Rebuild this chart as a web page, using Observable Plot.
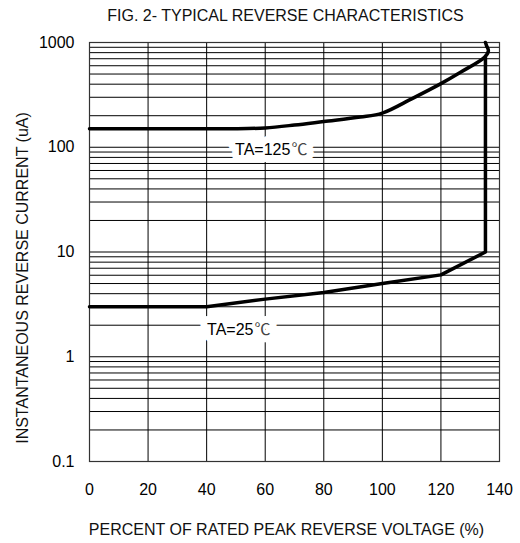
<!DOCTYPE html>
<html>
<head>
<meta charset="utf-8">
<script src="https://cdn.jsdelivr.net/npm/d3@7"></script>
<script src="https://cdn.jsdelivr.net/npm/@observablehq/plot@0.6"></script>
<style>
  html, body { margin: 0; padding: 0; background: #fff; }
  #chart { width: 520px; height: 543px; }
</style>
</head>
<body>
<div id="chart"></div>
<script>
// ---- data ----
const titleText = "FIG. 2- TYPICAL REVERSE CHARACTERISTICS";
const xLabelText = "PERCENT OF RATED PEAK REVERSE VOLTAGE (%)";
const yLabelText = "INSTANTANEOUS REVERSE CURRENT (uA)";

const xTicks = [0, 20, 40, 60, 80, 100, 120, 140];
const yTicks = [0.1, 1, 10, 100, 1000];
const yTickLabels = ["0.1", "1", "10", "100", "1000"];
const yDecades = [0.1, 1, 10, 100];
const yMinorMultipliers = [1, 2, 3, 4, 5, 6, 7, 8, 9];

// TA = 125 °C curve (percent, uA)
const hotX = [0, 20, 40, 50, 60, 70, 80, 92.5, 100, 110, 120, 126.7, 134.9, 136.2, 135.6, 135.2];
const hotY = [150, 150, 150, 150, 153, 163, 176, 194, 212, 290, 405, 520, 724, 830, 930, 1000];

// TA = 25 °C curve (percent, uA)
const coldX = [0, 20, 40, 60, 80, 100, 120, 135.2, 135.2];
const coldY = [3, 3, 3, 3.55, 4.1, 5.0, 6.05, 10, 720];

const labelText = ["TA=125", "TA=25"];
const labelUnit = "℃";
const labelX = [68.6, 56.0];
const labelY = [95, 1.82];

// ---- build ----
const hot = hotX.map((x, i) => ({x, y: hotY[i]}));
const cold = coldX.map((x, i) => ({x, y: coldY[i]}));
const labels = labelText.map((t, i) => ({t, u: labelUnit, x: labelX[i], y: labelY[i]}));
const yGrid = yDecades.flatMap(d => yMinorMultipliers.map(m => +(m * d).toPrecision(3))).concat([1000]);
const xGrid = xTicks.slice(1, -1);

const font = "'Liberation Sans', Arial, 'Noto Sans CJK SC', sans-serif";
const cjk = "'Noto Sans CJK SC', 'Liberation Sans', sans-serif";
const halo = {stroke: "#fff", fill: "#fff", strokeWidth: 14, strokeLinejoin: "round", paintOrder: "stroke", fontSize: 16};

const chart = Plot.plot({
  width: 520,
  height: 543,
  marginTop: 42,
  marginLeft: 89,
  marginRight: 21,
  marginBottom: 82,
  style: {fontFamily: font, fontSize: "16px", background: "#fff", color: "#000"},
  x: {domain: [0, 140]},
  y: {type: "log", domain: [0.1, 1000]},
  marks: [
    Plot.ruleY(yGrid, {stroke: "#000", strokeWidth: 1}),
    Plot.ruleX(xGrid, {stroke: "#000", strokeWidth: 1}),
    Plot.frame({stroke: "#333", strokeWidth: 1.2}),
    Plot.line(cold, {x: "x", y: "y", stroke: "#000", strokeWidth: 3.5, curve: "linear"}),
    Plot.line(hot, {x: "x", y: "y", stroke: "#000", strokeWidth: 3.5, curve: "catmull-rom"}),
    // white halo masks behind the labels
    Plot.text(labels, {x: "x", y: "y", text: "t", textAnchor: "end", ...halo}),
    Plot.text(labels, {x: "x", y: "y", text: "u", textAnchor: "start", fontFamily: cjk, dx: 1, ...halo}),
    // label texts
    Plot.text(labels, {x: "x", y: "y", text: "t", fill: "#000", fontSize: 16, textAnchor: "end"}),
    Plot.text(labels, {x: "x", y: "y", text: "u", fill: "#444", fontSize: 16, textAnchor: "start", fontFamily: cjk, dx: 1}),
    Plot.axisX({ticks: xTicks, tickSize: 0, tickPadding: 22, label: null, fontSize: 16}),
    Plot.axisY({ticks: yTicks, tickFormat: (d) => yTickLabels[yTicks.indexOf(d)] ?? "", tickSize: 0, tickPadding: 15, label: null, fontSize: 16}),
    Plot.text([titleText], {frameAnchor: "top", dx: -9, dy: -27, lineAnchor: "middle", textAnchor: "middle", fontSize: 16, fill: "#111"}),
    Plot.text([xLabelText], {frameAnchor: "bottom", dx: -8, dy: 68, lineAnchor: "middle", textAnchor: "middle", fontSize: 16, fill: "#111"}),
    Plot.text([yLabelText], {frameAnchor: "left", dx: -66.5, dy: 26, rotate: -90, lineAnchor: "middle", textAnchor: "middle", fontSize: 16, fill: "#111"})
  ]
});
document.getElementById("chart").appendChild(chart);
</script>
</body>
</html>
